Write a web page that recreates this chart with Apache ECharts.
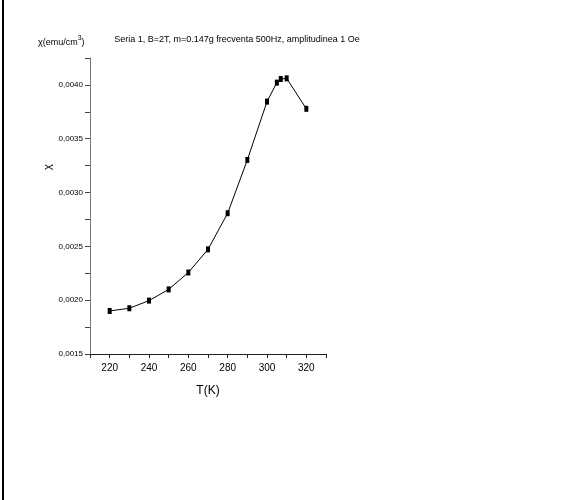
<!DOCTYPE html>
<html>
<head>
<meta charset="utf-8">
<script src="https://cdn.jsdelivr.net/npm/echarts@6/dist/echarts.min.js"></script>
<style>
  html, body { margin: 0; padding: 0; background: #fff; }
  #chart { width: 577px; height: 500px; }
</style>
</head>
<body>
<div id="chart"></div>
<script>
// temperature (K) and susceptibility values
var temps = [220, 230, 240, 250, 260, 270, 280, 290, 300, 305, 307, 310, 320];
var chi = [0.00190, 0.001925, 0.001996, 0.00210, 0.002257, 0.002472, 0.002808,
           0.003303, 0.003845, 0.004021, 0.004055, 0.004061, 0.003778];
var xLabels = [220, 240, 260, 280, 300, 320];
var yLabels = [0.0015, 0.0020, 0.0025, 0.0030, 0.0035, 0.0040];

var titleText = 'Seria 1, B=2T, m=0.147g frecventa 500Hz, amplitudinea 1 Oe';
var font = '"Liberation Sans Narrow", "Liberation Sans", Arial, sans-serif';

var points = temps.map(function (t, i) { return [t, chi[i]]; });

function near(list, v, eps) {
  for (var i = 0; i < list.length; i++) {
    if (Math.abs(list[i] - v) < eps) return true;
  }
  return false;
}

var chart = echarts.init(document.getElementById('chart'));
chart.setOption({
  backgroundColor: '#fff',
  animation: false,
  title: [{
    text: titleText,
    left: 232,
    top: 30,
    textAlign: 'center',
    textStyle: { fontFamily: font, fontSize: 9, fontWeight: 'normal', color: '#000' }
  }, {
    text: '{a|χ(emu/cm}{s|3}{a|)}',
    left: 38,
    top: 35,
    padding: 0,
    textStyle: {
      fontWeight: 'normal',
      rich: {
        a: { fontFamily: font, fontSize: 9, fontWeight: 'normal', color: '#000', verticalAlign: 'bottom', lineHeight: 12 },
        s: { fontFamily: font, fontSize: 7, fontWeight: 'normal', color: '#000', verticalAlign: 'top', lineHeight: 12 }
      }
    }
  }],
  graphic: [{
    type: 'rect',
    shape: { x: 2, y: 0, width: 2, height: 500 },
    style: { fill: '#000' }
  }, {
    type: 'text',
    x: 48,
    y: 167,
    rotation: Math.PI / 2,
    style: {
      text: 'χ',
      font: '11px ' + font,
      fill: '#000',
      align: 'center',
      verticalAlign: 'middle'
    }
  }],
  grid: { left: 90, right: 251, top: 58, bottom: 146, outerBoundsMode: 'none' },
  xAxis: {
    type: 'value',
    min: 210,
    max: 330,
    interval: 10,
    name: 'T(K)',
    nameLocation: 'middle',
    nameGap: 31,
    nameTextStyle: { fontFamily: font, fontSize: 12, color: '#000' },
    axisLine: { show: true, lineStyle: { color: '#222', width: 1 } },
    axisTick: { show: true, length: 4, lineStyle: { color: '#222' } },
    splitLine: { show: false },
    axisLabel: {
      margin: 9,
      fontFamily: font,
      fontSize: 10,
      color: '#000',
      formatter: function (v) { return near(xLabels, v, 0.01) ? String(v) : ''; }
    }
  },
  yAxis: {
    type: 'value',
    min: 0.0015,
    max: 0.00425,
    interval: 0.00025,
    axisLine: { show: true, lineStyle: { color: '#777', width: 1 } },
    axisTick: { show: true, length: 5, lineStyle: { color: '#444' } },
    splitLine: { show: false },
    axisLabel: {
      margin: 7,
      fontFamily: font,
      fontSize: 8,
      color: '#000',
      formatter: function (v) {
        return near(yLabels, v, 1e-7) ? v.toFixed(4).replace('.', ',') : '';
      }
    }
  },
  series: [{
    type: 'line',
    data: points,
    symbol: 'rect',
    symbolSize: [4, 6],
    itemStyle: { color: '#000' },
    lineStyle: { color: '#000', width: 1 }
  }]
});
</script>
</body>
</html>
